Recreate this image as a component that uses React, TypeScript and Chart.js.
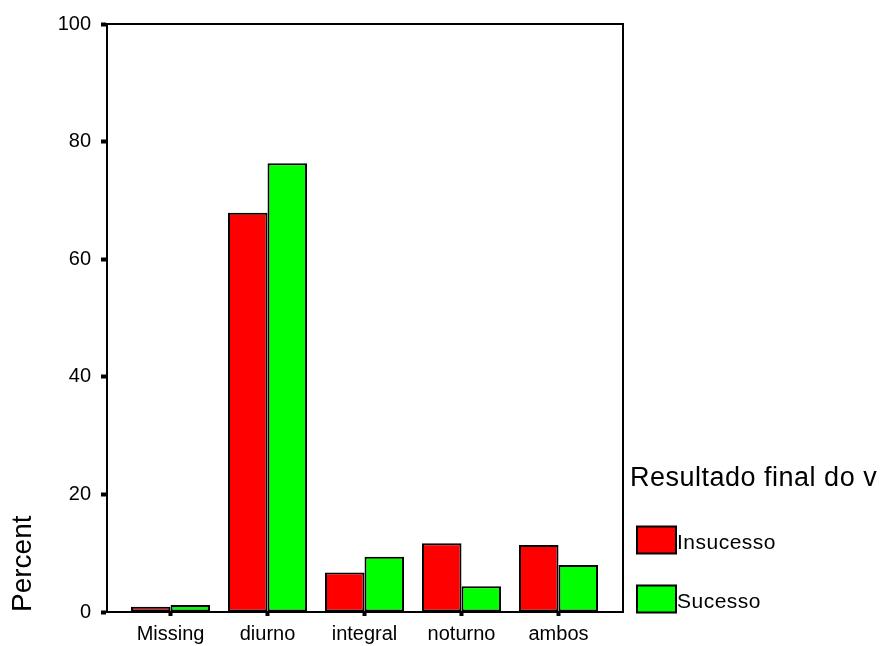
import React, { useEffect, useRef } from "react";
import { Chart, registerables } from "chart.js";

Chart.register(...registerables);

const categories = ["Missing", "diurno", "integral", "noturno", "ambos"];
const insucesso = [0.9, 67.9, 6.7, 11.7, 11.4];
const sucesso = [1.2, 76.3, 9.4, 4.4, 8.0];
const yTicks = [0, 20, 40, 60, 80, 100];
const seriesNames = ["Insucesso", "Sucesso"];
const seriesColors = ["#FF0000", "#00FF00"];
const legendTitle = "Resultado final do v";
const yTitle = "Percent";

const FONT = "'Liberation Sans', Arial, sans-serif";

const framePlugin = {
  id: "frame",
  afterDraw(chart: any) {
    const { ctx, chartArea } = chart;
    ctx.save();
    ctx.strokeStyle = "#000";
    ctx.lineWidth = 2;
    ctx.beginPath();
    ctx.moveTo(chartArea.left, chartArea.top);
    ctx.lineTo(chartArea.right, chartArea.top);
    ctx.lineTo(chartArea.right, chartArea.bottom);
    ctx.stroke();
    ctx.restore();
  },
};

const legendPlugin = {
  id: "customLegend",
  afterDraw(chart: any) {
    const { ctx, chartArea } = chart;
    const x0 = chartArea.right + 7;
    const bottom = chartArea.bottom;
    ctx.save();
    ctx.fillStyle = "#000";
    ctx.textBaseline = "middle";
    ctx.textAlign = "left";
    ctx.font = `27px ${FONT}`;
    (ctx as any).letterSpacing = "0.5px";
    ctx.fillText(legendTitle, x0, bottom - 133);
    const boxW = 39;
    const boxH = 27;
    const rows = [bottom - 72, bottom - 13];
    seriesNames.forEach((name, i) => {
      const cy = rows[i];
      ctx.fillStyle = seriesColors[i];
      ctx.fillRect(x0 + 7, cy - boxH / 2, boxW, boxH);
      ctx.strokeStyle = "#000";
      ctx.lineWidth = 2;
      ctx.strokeRect(x0 + 7, cy - boxH / 2, boxW, boxH);
      ctx.fillStyle = "#000";
      ctx.font = `21px ${FONT}`;
      ctx.fillText(name, x0 + 7 + boxW + 1, cy + 3);
    });
    ctx.restore();
  },
};

export default function App() {
  const ref = useRef<HTMLCanvasElement>(null);

  useEffect(() => {
    if (!ref.current) return;
    const chart = new Chart(ref.current, {
      type: "bar",
      data: {
        datasets: [
          {
            label: seriesNames[0],
            data: insucesso.map((v, i) => ({ x: i, y: v })),
            backgroundColor: seriesColors[0],
            borderColor: "#000",
            borderWidth: 2,
            borderSkipped: false,
            categoryPercentage: 0.815,
            barPercentage: 1,
          },
          {
            label: seriesNames[1],
            data: sucesso.map((v, i) => ({ x: i, y: v })),
            backgroundColor: seriesColors[1],
            borderColor: "#000",
            borderWidth: 2,
            borderSkipped: false,
            categoryPercentage: 0.815,
            barPercentage: 1,
          },
        ],
      },
      options: {
        animation: false,
        responsive: false,
        layout: { padding: { top: 24, right: 260, left: 0, bottom: 0 } },
        plugins: {
          legend: { display: false },
          tooltip: { enabled: false },
        },
        scales: {
          x: {
            type: "linear",
            offset: false,
            min: -0.655,
            max: 4.665,
            afterBuildTicks: (scale: any) => {
              scale.ticks = categories.map((_, i) => ({ value: i }));
            },
            afterFit: (scale: any) => {
              scale.height = 34;
            },
            ticks: {
              callback: (v: any) => categories[v as number] ?? "",
              color: "#000",
              font: { family: FONT, size: 20 },
              padding: 6,
              maxRotation: 0,
              autoSkip: false,
            },
            grid: {
              offset: false,
              drawOnChartArea: false,
              drawTicks: true,
              tickLength: 4,
              tickWidth: 4,
              color: "#000",
            },
            border: { display: true, color: "#000", width: 2 },
          },
          y: {
            min: 0,
            max: 100,
            afterBuildTicks: (scale: any) => {
              scale.ticks = yTicks.map((v) => ({ value: v }));
            },
            afterFit: (scale: any) => {
              scale.width = 107;
            },
            ticks: {
              color: "#000",
              font: { family: FONT, size: 20 },
              padding: 10,
            },
            grid: {
              drawOnChartArea: false,
              drawTicks: true,
              tickLength: 6,
              tickWidth: 4,
              color: "#000",
            },
            border: { display: true, color: "#000", width: 2 },
            title: {
              display: true,
              text: yTitle,
              align: "start",
              color: "#000",
              font: { family: FONT, size: 28 },
              padding: { top: 6, bottom: 0 },
            },
          },
        },
      },
      plugins: [framePlugin, legendPlugin],
    } as any);
    return () => chart.destroy();
  }, []);

  return (
    <div style={{ position: "absolute", left: 0, top: 0, width: 883, height: 646, background: "#fff" }}>
      <canvas ref={ref} width={883} height={646} style={{ display: "block" }} />
    </div>
  );
}
